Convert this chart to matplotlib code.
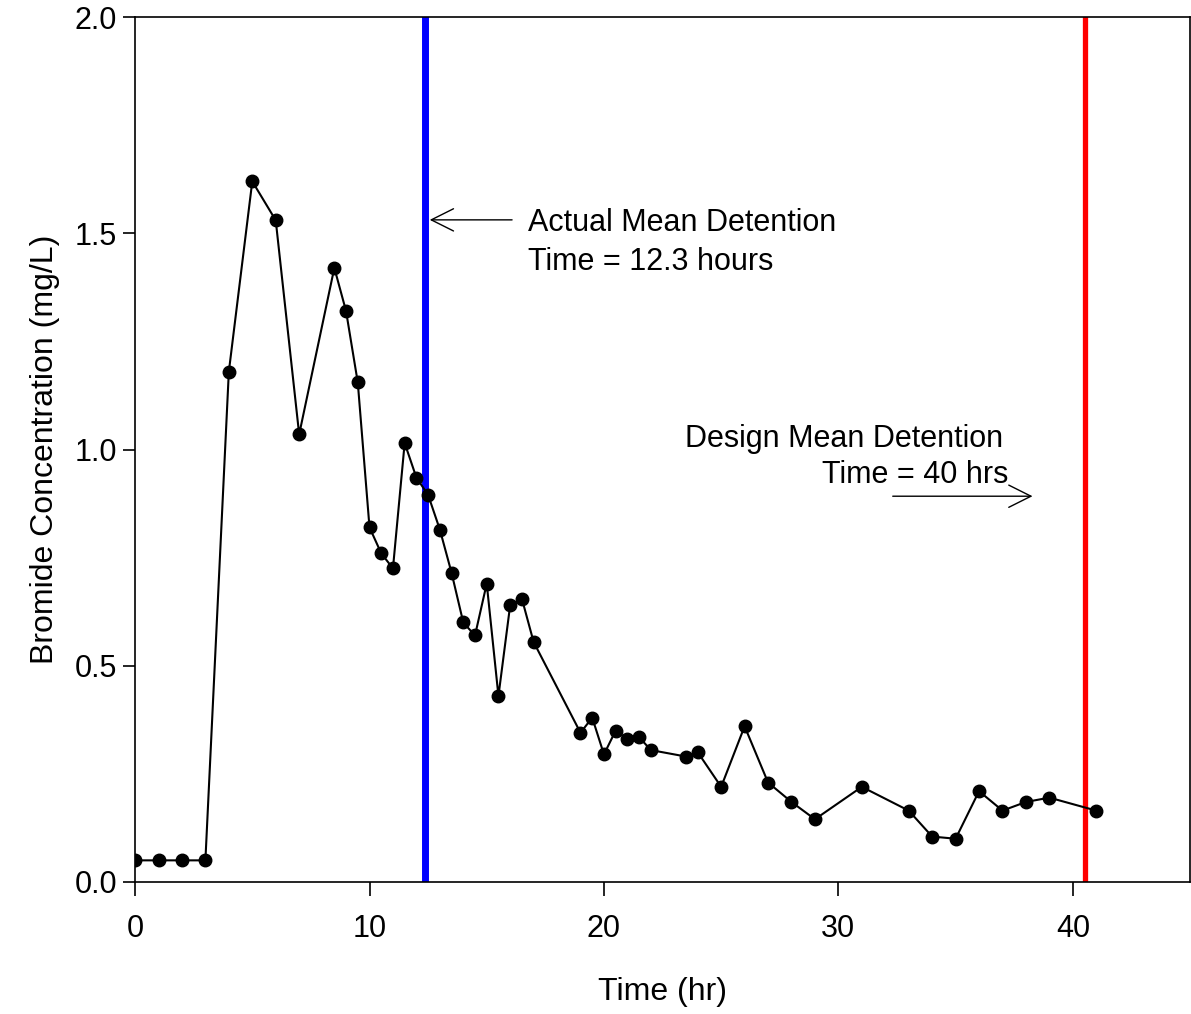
import numpy as np
import matplotlib.pyplot as plt

plt.rcParams['font.family'] = ['Liberation Sans', 'DejaVu Sans']

# Bromide tracer concentration vs time
time_hr = [0, 1, 2, 3, 4, 5, 6, 7, 8.5, 9, 9.5, 10, 10.5, 11, 11.5, 12, 12.5,
           13, 13.5, 14, 14.5, 15, 15.5, 16, 16.5, 17, 19, 19.5, 20, 20.5, 21,
           21.5, 22, 23.5, 24, 25, 26, 27, 28, 29, 31, 33, 34, 35, 36, 37, 38,
           39, 41]
bromide = [0.05, 0.05, 0.05, 0.05, 1.18, 1.62, 1.53, 1.035, 1.42, 1.32, 1.155,
           0.82, 0.76, 0.725, 1.015, 0.935, 0.895, 0.815, 0.715, 0.60, 0.57,
           0.69, 0.43, 0.64, 0.655, 0.555, 0.345, 0.38, 0.295, 0.35, 0.33,
           0.335, 0.305, 0.29, 0.30, 0.22, 0.36, 0.23, 0.185, 0.145, 0.22,
           0.165, 0.105, 0.10, 0.21, 0.165, 0.185, 0.195, 0.165]

ACTUAL_MDT = 12.35
DESIGN_MDT = 40.5

fig = plt.figure(figsize=(11.91, 10.14), dpi=100)
ax = fig.add_axes([0.1134, 0.1302, 0.8858, 0.853])

ax.axvline(ACTUAL_MDT, color='#0000ff', lw=5, zorder=1)
ax.axvline(DESIGN_MDT, color='#ff0000', lw=3.8, zorder=1)

ax.plot(time_hr, bromide, color='black', lw=1.5, marker='o', markersize=9,
        zorder=3)

ax.set_xlim(0, 45)
ax.set_ylim(0, 2.0)
ax.set_xticks([0, 10, 20, 30, 40])
ax.set_yticks([0.0, 0.5, 1.0, 1.5, 2.0])
ax.set_yticklabels(['0.0', '0.5', '1.0', '1.5', '2.0'])
ax.tick_params(axis='x', direction='out', length=10, width=1.2, pad=13,
               labelsize=22)
ax.tick_params(axis='y', direction='out', length=9, width=1.2, pad=4,
               labelsize=22)
for s in ax.spines.values():
    s.set_linewidth(1.2)

ax.set_xlabel('Time (hr)', fontsize=23, labelpad=24)
ax.set_ylabel('Bromide Concentration (mg/L)', fontsize=23, labelpad=10)

# annotation arrows
ax.annotate('', xy=(12.45, 1.531), xytext=(16.2, 1.531),
            arrowprops=dict(arrowstyle='->', lw=1, mutation_scale=40))
ax.text(16.76, 1.524, 'Actual Mean Detention', fontsize=22, va='center')
ax.text(16.76, 1.434, 'Time = 12.3 hours', fontsize=22, va='center')

ax.annotate('', xy=(38.4, 0.892), xytext=(32.2, 0.892),
            arrowprops=dict(arrowstyle='->', lw=1, mutation_scale=40))
ax.text(23.45, 1.024, 'Design Mean Detention', fontsize=22, va='center')
ax.text(37.25, 0.940, 'Time = 40 hrs', fontsize=22, va='center', ha='right')

fig.savefig('out.png', dpi=100)
